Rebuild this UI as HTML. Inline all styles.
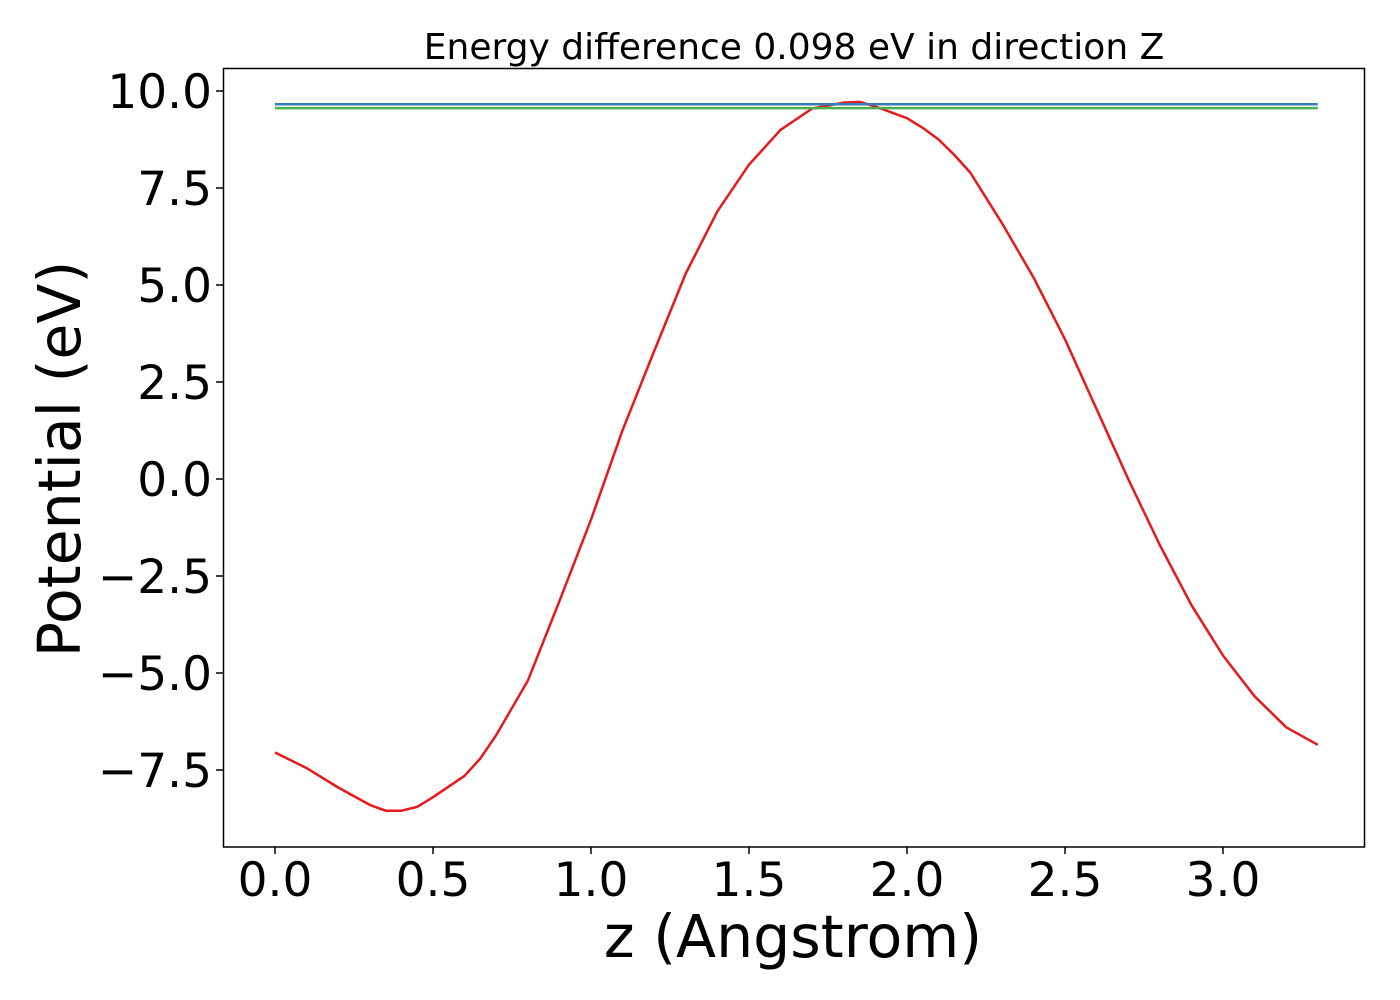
<!DOCTYPE html>
<html><head><meta charset="utf-8"><style>
html,body{margin:0;padding:0;background:#fff;}
svg{display:block;font-family:"DejaVu Sans","Liberation Sans",sans-serif;}
</style></head><body>
<svg id="chart" width="1400" height="1000" viewBox="0 0 1400 1000" xmlns="http://www.w3.org/2000/svg">
<rect width="1400" height="1000" fill="#fff"/>
<text x="794" y="59" font-size="36" text-anchor="middle" fill="#000">Energy difference 0.098 eV in direction Z</text>
<g id="plot"></g>
<rect x="223.5" y="68.5" width="1141" height="778.5" fill="none" stroke="#000" stroke-width="1.5"/>
<text x="793" y="957" font-size="58.5" text-anchor="middle" fill="#000">z (Angstrom)</text>
<text transform="translate(80,459) rotate(-90)" font-size="58.5" text-anchor="middle" fill="#000">Potential (eV)</text>
</svg>
<script>
const zValues = [0.0,0.1,0.2,0.3,0.35,0.4,0.45,0.5,0.6,0.65,0.7,0.8,0.9,1.0,1.1,1.2,1.3,1.4,1.5,1.6,1.7,1.8,1.85,1.9,2.0,2.05,2.1,2.15,2.2,2.3,2.4,2.5,2.6,2.7,2.8,2.9,3.0,3.1,3.2,3.3];
const potentialValues = [-7.05,-7.45,-7.95,-8.4,-8.55,-8.55,-8.45,-8.2,-7.65,-7.2,-6.6,-5.2,-3.15,-1.05,1.26,3.3,5.3,6.9,8.1,9.0,9.55,9.7,9.72,9.6,9.3,9.05,8.75,8.35,7.9,6.6,5.2,3.6,1.8,0.0,-1.7,-3.25,-4.55,-5.6,-6.4,-6.85];
const blueLevel = 9.66;
const greenLevel = 9.56;
const xTicks = [0.0,0.5,1.0,1.5,2.0,2.5,3.0];
const xTickLabels = ["0.0","0.5","1.0","1.5","2.0","2.5","3.0"];
const yTicks = [10.0,7.5,5.0,2.5,0.0,-2.5,-5.0,-7.5];
const yTickLabels = ["10.0","7.5","5.0","2.5","0.0","\u22122.5","\u22125.0","\u22127.5"];

const X = v => 275 + v*316;
const Y = v => 479 - v*38.8;
const NS = "http://www.w3.org/2000/svg";
const g = document.getElementById('plot');
function mk(tag, attrs){const e=document.createElementNS(NS,tag);for(const k in attrs)e.setAttribute(k,attrs[k]);g.appendChild(e);return e;}

xTicks.forEach((t,i)=>{
  const tk=mk('line',{x1:X(t),x2:X(t),y1:847,y2:854,stroke:'#000','stroke-width':1.5});
  
  
  const tx=mk('text',{x:X(t),y:896,'font-size':47,'text-anchor':'middle',fill:'#000'});
  tx.textContent=xTickLabels[i];
  
  
});
yTicks.forEach((t,i)=>{
  const tk=mk('line',{x1:216,x2:223,y1:Y(t),y2:Y(t),stroke:'#000','stroke-width':1.5});
  
  
  const tx=mk('text',{x:212,y:Y(t)+17,'font-size':47,'text-anchor':'end',fill:'#000'});
  tx.textContent=yTickLabels[i];
  
  
});

const pts = zValues.map((z,i)=>X(z).toFixed(1)+','+Y(potentialValues[i]).toFixed(1)).join(' ');
const red = mk('polyline',{points:pts,fill:'none',stroke:'#e41a1c','stroke-width':2.5,'stroke-linejoin':'round'});



const zMin = zValues[0], zMax = zValues[zValues.length-1];
const bl = mk('line',{x1:X(zMin),x2:X(zMax),y1:Y(blueLevel),y2:Y(blueLevel),stroke:'#377eb8','stroke-width':2.5});


const gl = mk('line',{x1:X(zMin),x2:X(zMax),y1:Y(greenLevel),y2:Y(greenLevel),stroke:'#4daf4a','stroke-width':2.5});


</script>
</body></html>
